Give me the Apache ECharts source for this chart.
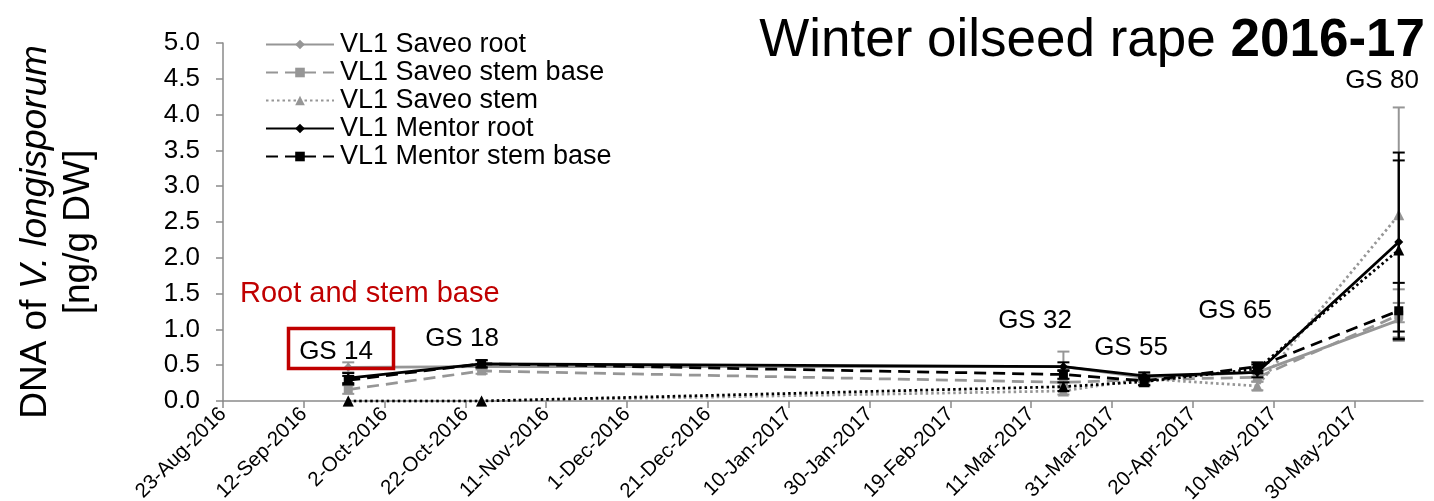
<!DOCTYPE html>
<html>
<head>
<meta charset="utf-8">
<script src="https://cdn.jsdelivr.net/npm/echarts@6/dist/echarts.min.js"></script>
<style>
  html, body { margin: 0; padding: 0; background: #ffffff; }
  #chart { width: 1434px; height: 501px; }
</style>
</head>
<body>
<div id="chart"></div>
<script>
// Sampling dates and growth stages, winter oilseed rape 2016-17
const axisStart = '2016-08-23';
const axisEnd = '2017-06-16';
const sampleDates = ['2016-09-23', '2016-10-26', '2017-03-19', '2017-04-08', '2017-05-06', '2017-06-10'];
const growthStages = ['GS 14', 'GS 18', 'GS 32', 'GS 55', 'GS 65', 'GS 80'];

// DNA of V. longisporum [ng/g DW], means and error (+/-)
const saveoRoot         = [0.47, 0.48, 0.48, 0.33, 0.40, 1.13];
const saveoRootErr      = [0.07, 0.04, 0.21, 0.05, 0.06, 0.24];
const saveoStemBase     = [0.16, 0.42, 0.26, 0.30, 0.33, 1.20];
const saveoStemBaseErr  = [0.06, 0.04, 0.05, 0.04, 0.06, 0.36];
const saveoStem         = [0.00, 0.00, 0.14, 0.31, 0.21, 2.60];
const saveoStemErr      = [0.00, 0.00, 0.05, 0.04, 0.06, 1.50];
const mentorRoot        = [0.32, 0.52, 0.48, 0.35, 0.40, 2.22];
const mentorRootErr     = [0.07, 0.05, 0.06, 0.05, 0.07, 1.25];
const mentorStemBase    = [0.29, 0.52, 0.37, 0.28, 0.48, 1.26];
const mentorStemBaseErr = [0.06, 0.05, 0.06, 0.06, 0.06, 0.39];
const mentorStem        = [0.00, 0.00, 0.20, 0.27, 0.45, 2.11];
const mentorStemErr     = [0.00, 0.00, 0.06, 0.05, 0.06, 1.25];

const yTicks = { min: 0, max: 5, step: 0.5 };
const xTickStepDays = 20;

const FONT = "'Liberation Sans', Arial, sans-serif";
const GRAY = '#969696';
const BLACK = '#000000';
const AXIS = '#8a8a8a';
const MONTHS = ['Jan','Feb','Mar','Apr','May','Jun','Jul','Aug','Sep','Oct','Nov','Dec'];
const DAY = 86400000;

function parseDate(s) {
  const [y, m, d] = s.split('-').map(Number);
  return Date.UTC(y, m - 1, d);
}
const base = parseDate(axisStart);
function dayOffset(s) { return Math.round((parseDate(s) - base) / DAY); }
function fmtDay(v) {
  const d = new Date(base + Math.round(v) * DAY);
  return d.getUTCDate() + '-' + MONTHS[d.getUTCMonth()] + '-' + d.getUTCFullYear();
}

const xs = sampleDates.map(dayOffset);
const xMax = dayOffset(axisEnd);
const xTickValues = [];
for (let v = 0; v <= xMax; v += xTickStepDays) xTickValues.push(v);

// Series look (line, marker) and their values
const seriesDefs = [
  { name: 'VL1 Saveo root',        values: saveoRoot,      err: saveoRootErr,      color: GRAY,  dash: 'solid',  symbol: 'diamond',  size: 9,  legend: true },
  { name: 'VL1 Saveo stem base',   values: saveoStemBase,  err: saveoStemBaseErr,  color: GRAY,  dash: [12, 7],  symbol: 'rect',     size: 9,  legend: true },
  { name: 'VL1 Saveo stem',        values: saveoStem,      err: saveoStemErr,      color: GRAY,  dash: [2.5, 3], symbol: 'triangle', size: 11, legend: true },
  { name: 'VL1 Mentor root',       values: mentorRoot,     err: mentorRootErr,     color: BLACK, dash: 'solid',  symbol: 'diamond',  size: 9,  legend: true },
  { name: 'VL1 Mentor stem base',  values: mentorStemBase, err: mentorStemBaseErr, color: BLACK, dash: [12, 7],  symbol: 'rect',     size: 9,  legend: true },
  { name: 'VL1 Mentor stem',       values: mentorStem,     err: mentorStemErr,     color: BLACK, dash: [2.5, 3], symbol: 'triangle', size: 11, legend: false }
];

function errorBarSeries(def, z) {
  return {
    type: 'custom',
    name: def.name + ' error',
    z: z,
    silent: true,
    data: xs.map((x, i) => [x, Math.max(0, def.values[i] - def.err[i]), def.values[i] + def.err[i]]),
    encode: { x: 0, y: [1, 2] },
    renderItem: function (params, api) {
      const x = api.value(0), lo = api.value(1), hi = api.value(2);
      if (hi - lo <= 0) return null;
      const pLo = api.coord([x, lo]);
      const pHi = api.coord([x, hi]);
      const w = 6;
      const st = { stroke: def.color, lineWidth: 2 };
      return {
        type: 'group',
        children: [
          { type: 'line', shape: { x1: pLo[0], y1: pLo[1], x2: pHi[0], y2: pHi[1] }, style: st },
          { type: 'line', shape: { x1: pHi[0] - w, y1: pHi[1], x2: pHi[0] + w, y2: pHi[1] }, style: st },
          { type: 'line', shape: { x1: pLo[0] - w, y1: pLo[1], x2: pLo[0] + w, y2: pLo[1] }, style: st }
        ]
      };
    }
  };
}

const series = [];
seriesDefs.forEach((def, k) => {
  series.push(errorBarSeries(def, 2 + k * 2));
  series.push({
    type: 'line',
    name: def.name,
    z: 3 + k * 2,
    data: xs.map((x, i) => [x, def.values[i]]),
    symbol: def.symbol,
    symbolSize: def.size,
    showAllSymbol: true,
    color: def.color,
    itemStyle: { color: def.color },
    lineStyle: { color: def.color, width: 2.75, type: def.dash },
    emphasis: { disabled: true },
    animation: false
  });
});

const chart = echarts.init(document.getElementById('chart'), null, { renderer: 'canvas' });

// Growth-stage annotations above the sampling points
const stageLabelPos = [[336, 352], [462, 339], [1035, 321], [1131, 348], [1235, 311], [1382, 81]];
const stageGraphics = growthStages.map((t, i) => ({
  type: 'text',
  x: stageLabelPos[i][0],
  y: stageLabelPos[i][1],
  style: { text: t, font: '26px ' + FONT, fill: '#000', align: 'center', verticalAlign: 'middle' },
  z: 50
}));

chart.setOption({
  animation: false,
  backgroundColor: '#ffffff',
  textStyle: { fontFamily: FONT },
  grid: { left: 223, right: 11, top: 43, bottom: 100, containLabel: false, outerBoundsMode: 'none' },
  legend: {
    data: seriesDefs.filter(d => d.legend).map(d => d.name),
    orient: 'vertical',
    left: 265,
    top: 31,
    padding: 0,
    itemWidth: 68,
    itemHeight: 12,
    itemGap: 1,
    selectedMode: false,
    textStyle: { fontSize: 27, fontFamily: FONT, color: '#000', padding: [0, 0, 0, 1] }
  },
  xAxis: {
    type: 'value',
    min: 0,
    max: xMax,
    interval: xTickStepDays,
    axisLine: { show: true, lineStyle: { color: AXIS, width: 1.5 } },
    axisTick: { show: true, inside: false, length: 7, lineStyle: { color: AXIS, width: 1.5 }, customValues: xTickValues },
    axisLabel: {
      customValues: xTickValues,
      rotate: 45,
      margin: 10,
      fontSize: 20.5,
      fontFamily: FONT,
      color: '#000',
      formatter: fmtDay
    },
    splitLine: { show: false }
  },
  yAxis: {
    type: 'value',
    min: yTicks.min,
    max: yTicks.max,
    interval: yTicks.step,
    axisLine: { show: true, lineStyle: { color: AXIS, width: 1.5 } },
    axisTick: { show: true, inside: false, length: 7, lineStyle: { color: AXIS, width: 1.5 } },
    axisLabel: { margin: 23, fontSize: 26, fontFamily: FONT, color: '#000', formatter: v => v.toFixed(1) },
    splitLine: { show: false }
  },
  series: series,
  graphic: [
    {
      type: 'text',
      x: 1425, y: 41, z: 50,
      style: {
        text: '{a|Winter oilseed rape }{b|2016-17}',
        align: 'right', verticalAlign: 'middle',
        rich: {
          a: { fontSize: 53, fontFamily: FONT, fill: '#000' },
          b: { fontSize: 53, fontFamily: FONT, fontWeight: 'bold', fill: '#000' }
        }
      }
    },
    {
      type: 'text',
      x: 57, y: 232, rotation: Math.PI / 2, z: 50,
      style: {
        text: '{n|DNA of }{i|V. longisporum}\n{n|[ng/g DW]}',
        align: 'center', verticalAlign: 'middle',
        rich: {
          n: { fontSize: 37, fontFamily: FONT, fill: '#000', lineHeight: 43 },
          i: { fontSize: 37, fontFamily: FONT, fontStyle: 'italic', fill: '#000', lineHeight: 43 }
        }
      }
    },
    {
      type: 'text',
      x: 240, y: 294, z: 50,
      style: { text: 'Root and stem base', font: '29px ' + FONT, fill: '#c00000', align: 'left', verticalAlign: 'middle' }
    },
    {
      type: 'rect',
      z: 49,
      shape: { x: 288.5, y: 328.5, width: 105, height: 40 },
      style: { fill: 'none', stroke: '#c00000', lineWidth: 3.5 }
    }
  ].concat(stageGraphics)
});
</script>
</body>
</html>
